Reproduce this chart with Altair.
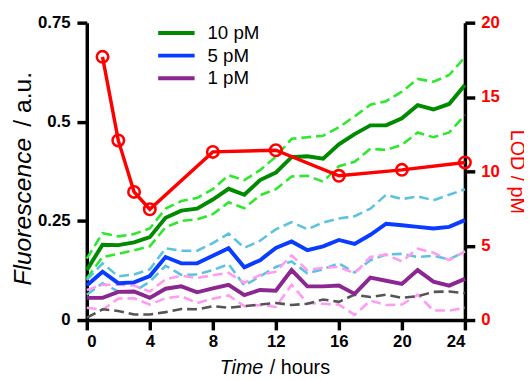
import altair as alt
import pandas as pd

hours = list(range(25))

g10 = [0.126, 0.19, 0.189, 0.196, 0.209, 0.258, 0.276, 0.281, 0.304, 0.331, 0.316, 0.353, 0.372,
       0.411, 0.413, 0.407, 0.443, 0.469, 0.491, 0.491, 0.509, 0.542, 0.531, 0.545, 0.593]
g10_hi = [0.155, 0.219, 0.211, 0.217, 0.231, 0.281, 0.3, 0.308, 0.33, 0.365, 0.353, 0.378, 0.412,
          0.457, 0.461, 0.465, 0.486, 0.514, 0.543, 0.552, 0.576, 0.608, 0.601, 0.618, 0.663]
g10_lo = [0.105, 0.159, 0.167, 0.176, 0.186, 0.234, 0.25, 0.254, 0.267, 0.297, 0.282, 0.315, 0.33,
          0.362, 0.364, 0.349, 0.388, 0.399, 0.432, 0.429, 0.442, 0.473, 0.461, 0.473, 0.517]

b5 = [0.087, 0.122, 0.093, 0.095, 0.111, 0.159, 0.143, 0.143, 0.162, 0.181, 0.133, 0.151, 0.182,
      0.198, 0.176, 0.186, 0.202, 0.192, 0.215, 0.243, 0.239, 0.235, 0.231, 0.235, 0.252]
b5_hi = [0.101, 0.143, 0.11, 0.115, 0.128, 0.181, 0.175, 0.175, 0.194, 0.218, 0.182, 0.2, 0.229,
         0.247, 0.229, 0.246, 0.256, 0.262, 0.281, 0.316, 0.305, 0.312, 0.302, 0.316, 0.33]
b5_lo = [0.064, 0.093, 0.072, 0.072, 0.097, 0.137, 0.114, 0.115, 0.126, 0.141, 0.087, 0.11, 0.134,
         0.148, 0.118, 0.128, 0.143, 0.12, 0.151, 0.165, 0.167, 0.159, 0.162, 0.153, 0.173]

p1 = [0.056, 0.056, 0.071, 0.072, 0.056, 0.079, 0.085, 0.07, 0.08, 0.089, 0.063, 0.076, 0.074,
      0.126, 0.085, 0.085, 0.087, 0.066, 0.107, 0.099, 0.091, 0.126, 0.097, 0.087, 0.104]
p1_hi = [0.076, 0.089, 0.089, 0.087, 0.072, 0.103, 0.112, 0.106, 0.113, 0.119, 0.094, 0.114, 0.122,
         0.163, 0.126, 0.132, 0.134, 0.118, 0.159, 0.165, 0.148, 0.18, 0.17, 0.151, 0.173]
p1_lo = [0.031, 0.026, 0.054, 0.055, 0.039, 0.055, 0.06, 0.043, 0.054, 0.062, 0.035, 0.038, 0.033,
         0.089, 0.043, 0.041, 0.039, 0.013, 0.049, 0.038, 0.039, 0.064, 0.024, 0.024, 0.031]

blank = [0.006, 0.027, 0.023, 0.014, 0.014, 0.02, 0.028, 0.027, 0.035, 0.031, 0.035, 0.039, 0.043,
         0.038, 0.041, 0.052, 0.046, 0.064, 0.058, 0.064, 0.056, 0.06, 0.071, 0.072, 0.068]

lod_hours = [1, 2, 3, 4, 8, 12, 16, 20, 24]
lod = [17.7, 12.08, 8.62, 7.45, 11.31, 11.42, 9.7, 10.1, 10.6]

solid_names = ["10 pM", "5 pM", "1 pM"]
solid_colors = ["#008a00", "#0a3cff", "#8c2690"]
dashed_names = ["10 pM high", "10 pM low", "5 pM high", "5 pM low", "1 pM high", "1 pM low", "blank"]
dashed_colors = ["#2ee82e", "#2ee82e", "#5bc3e0", "#5bc3e0", "#ff9cf2", "#ff9cf2", "#555555"]

FONT = "Liberation Sans"

solid_rows = []
for name, vals in zip(solid_names, [g10, b5, p1]):
    for h, v in zip(hours, vals):
        solid_rows.append({"hour": h, "series": name, "value": v})
solid_df = pd.DataFrame(solid_rows)

dashed_rows = []
for name, vals in zip(dashed_names, [g10_hi, g10_lo, b5_hi, b5_lo, p1_hi, p1_lo, blank]):
    for h, v in zip(hours, vals):
        dashed_rows.append({"hour": h, "series": name, "value": v})
dashed_df = pd.DataFrame(dashed_rows)

lod_df = pd.DataFrame({"hour": lod_hours, "lod": lod})

axis_common = dict(
    labelFont=FONT, labelFontWeight="bold", labelFontSize=17, labelColor="black",
    domainColor="black", domainWidth=3.5, tickColor="black", tickWidth=3.5, tickSize=10,
    grid=False, title=None,
)

x_enc = alt.X("hour:Q", scale=alt.Scale(domain=[0, 24], nice=False),
              axis=alt.Axis(values=[0, 4, 8, 12, 16, 20, 24], labelPadding=4, **axis_common))
y_scale = alt.Scale(domain=[0, 0.75], nice=False)
y_axis = alt.Axis(values=[0, 0.25, 0.5, 0.75],
                  labelExpr="datum.value == 0 ? '0' : format(datum.value, '.2~f')",
                  labelPadding=7, **axis_common)

dashed = alt.Chart(dashed_df).mark_line(strokeWidth=2.6, strokeDash=[10, 5]).encode(
    x=x_enc,
    y=alt.Y("value:Q", scale=y_scale, axis=y_axis),
    stroke=alt.Stroke("series:N", scale=alt.Scale(domain=dashed_names, range=dashed_colors), legend=None),
)

solid = alt.Chart(solid_df).mark_line(strokeWidth=4).encode(
    x=x_enc,
    y=alt.Y("value:Q", scale=y_scale, axis=y_axis),
    color=alt.Color(
        "series:N",
        scale=alt.Scale(domain=solid_names, range=solid_colors),
        sort=solid_names,
        legend=alt.Legend(
            orient="none", legendX=79.5, legendY=-1, title=None,
            symbolType="M-2,0H2", symbolSize=342, symbolStrokeWidth=4,
            labelFont=FONT, labelFontSize=19, labelColor="black", labelOffset=20,
            rowPadding=1, padding=0,
        ),
    ),
)

one = alt.Data(values=[{"k": 1}])
title_style = dict(font=FONT, color="black", baseline="alphabetic")

yt1 = alt.Chart(one).mark_text(text="Fluorescence", fontStyle="italic", fontSize=25, angle=270,
                               align="left", **title_style).encode(x=alt.value(-57), y=alt.value(267))
yt2 = alt.Chart(one).mark_text(text="/ a.u.", fontSize=25, angle=270,
                               align="right", **title_style).encode(x=alt.value(-57), y=alt.value(50))
xt1 = alt.Chart(one).mark_text(text="Time", fontStyle="italic", fontSize=20,
                               align="left", **title_style).encode(x=alt.value(135), y=alt.value(357))
xt2 = alt.Chart(one).mark_text(text="/ hours", fontSize=20,
                               align="right", **title_style).encode(x=alt.value(247), y=alt.value(357))

left = alt.layer(dashed, solid, yt1, yt2, xt1, xt2)

r_scale = alt.Scale(domain=[0, 20], nice=False)
r_axis = alt.Axis(orient="right", values=[0, 5, 10, 15, 20], labelPadding=6,
                  **{**axis_common, "labelColor": "#ff0000", "title": "LOD / pM"},
                  titleColor="#ff0000", titleFont=FONT, titleFontSize=20, titleFontWeight="normal",
                  titleAngle=90, titlePadding=7)

red_line = alt.Chart(lod_df).mark_line(color="#ff0000", strokeWidth=3.5).encode(
    x=x_enc, y=alt.Y("lod:Q", scale=r_scale, axis=r_axis))
red_pts = alt.Chart(lod_df).mark_point(shape="circle", filled=False, color="#ff0000", size=135,
                                       strokeWidth=2.6, opacity=1).encode(
    x=x_enc, y=alt.Y("lod:Q", scale=r_scale, axis=r_axis))
right = alt.layer(red_line, red_pts)

chart = alt.layer(left, right).resolve_scale(y="independent").properties(
    width=384, height=302,
    autosize=alt.AutoSizeParams(type="none"),
    padding={"left": 80, "top": 12, "right": 60, "bottom": 59},
).configure_view(stroke=None)

chart.save("out.html", embed_options={"renderer": "svg", "actions": False})
